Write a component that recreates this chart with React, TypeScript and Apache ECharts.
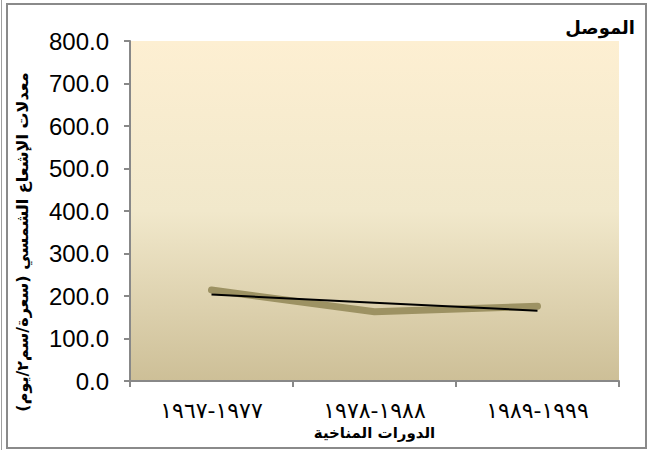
import React, { useEffect, useRef } from "react";
import * as echarts from "echarts";

// Climate periods and mean solar radiation for Mosul
const periods = ["١٩٦٧\u200E-\u200E١٩٧٧", "١٩٧٨\u200E-\u200E١٩٨٨", "١٩٨٩\u200E-\u200E١٩٩٩"];
const radiation = [214, 163, 176];

const stationName = "الموصل";
const xTitle = "الدورات المناخية";
const yTitle = "\u200Fمعدلات الإشعاع الشمسي (سعرة/سم٢/يوم)\u200F";

// Least-squares linear trend over the period index
function linearTrend(values: number[]): number[] {
  const n = values.length;
  const xs = values.map((_, i) => i);
  const mx = xs.reduce((a, b) => a + b, 0) / n;
  const my = values.reduce((a, b) => a + b, 0) / n;
  let num = 0;
  let den = 0;
  xs.forEach((x, i) => {
    num += (x - mx) * (values[i] - my);
    den += (x - mx) * (x - mx);
  });
  const slope = num / den;
  return xs.map((x) => +(my + slope * (x - mx)).toFixed(2));
}

export default function App() {
  const ref = useRef<HTMLDivElement>(null);

  useEffect(() => {
    document.body.style.margin = "0";
    const chart = echarts.init(ref.current!, null, { renderer: "svg" });
    const arabicFont = "DejaVu Sans";
    chart.setOption({
      animation: false,
      backgroundColor: "#ffffff",
      title: {
        text: stationName,
        right: 8,
        top: 13,
        textStyle: { fontFamily: arabicFont, fontSize: 18, fontWeight: "bold", color: "#000" },
      },
      grid: {
        left: 130,
        right: 29,
        top: 41,
        bottom: 69,
        containLabel: false,
        show: true,
        borderWidth: 0,
        backgroundColor: new echarts.graphic.LinearGradient(0, 0, 0, 1, [
          { offset: 0, color: "#fdefd2" },
          { offset: 0.5, color: "#f1e8cb" },
          { offset: 1, color: "#cdbf97" },
        ]),
      },
      graphic: [
        {
          type: "rect",
          shape: { x: 7, y: 4, width: 639, height: 444 },
          style: { fill: "none", stroke: "#8a8a8a", lineWidth: 2 },
          silent: true,
        },
        {
          type: "line",
          shape: { x1: 1.5, y1: 0, x2: 1.5, y2: 450 },
          style: { stroke: "#a0a0a0", lineWidth: 1 },
          silent: true,
        },
        {
          type: "text",
          x: 22,
          y: 242,
          rotation: Math.PI / 2,
          style: {
            text: yTitle,
            font: `bold 16px "${arabicFont}"`,
            fill: "#000",
            align: "center",
            verticalAlign: "middle",
          },
          silent: true,
        },
      ],
      xAxis: {
        type: "category",
        data: periods,
        boundaryGap: true,
        name: xTitle,
        nameLocation: "middle",
        nameGap: 44,
        nameTextStyle: { fontFamily: arabicFont, fontSize: 15, fontWeight: "bold", color: "#000" },
        axisLine: { lineStyle: { color: "#888888", width: 2 } },
        axisTick: { show: true, length: 6, lineStyle: { color: "#888888", width: 2 } },
        axisLabel: { fontFamily: arabicFont, fontSize: 22, color: "#000", margin: 18 },
        splitLine: { show: false },
      },
      yAxis: {
        type: "value",
        min: 0,
        max: 800,
        interval: 100,
        axisLine: { show: true, lineStyle: { color: "#888888", width: 2 } },
        axisTick: { show: true, length: 6, lineStyle: { color: "#888888", width: 2 } },
        axisLabel: {
          fontFamily: "Liberation Sans",
          fontSize: 24,
          color: "#000",
          margin: 21,
          formatter: (v: number) => v.toFixed(1),
        },
        splitLine: { show: false },
      },
      series: [
        {
          type: "line",
          data: radiation,
          showSymbol: false,
          symbol: "none",
          lineStyle: { color: "#9d9263", width: 7, cap: "round", join: "round" },
          z: 2,
        },
        {
          type: "line",
          data: linearTrend(radiation),
          showSymbol: false,
          symbol: "none",
          lineStyle: { color: "#000000", width: 2 },
          z: 3,
        },
      ],
    });
    return () => chart.dispose();
  }, []);

  return <div ref={ref} style={{ width: 648, height: 450, position: "absolute", left: 0, top: 0 }} />;
}
